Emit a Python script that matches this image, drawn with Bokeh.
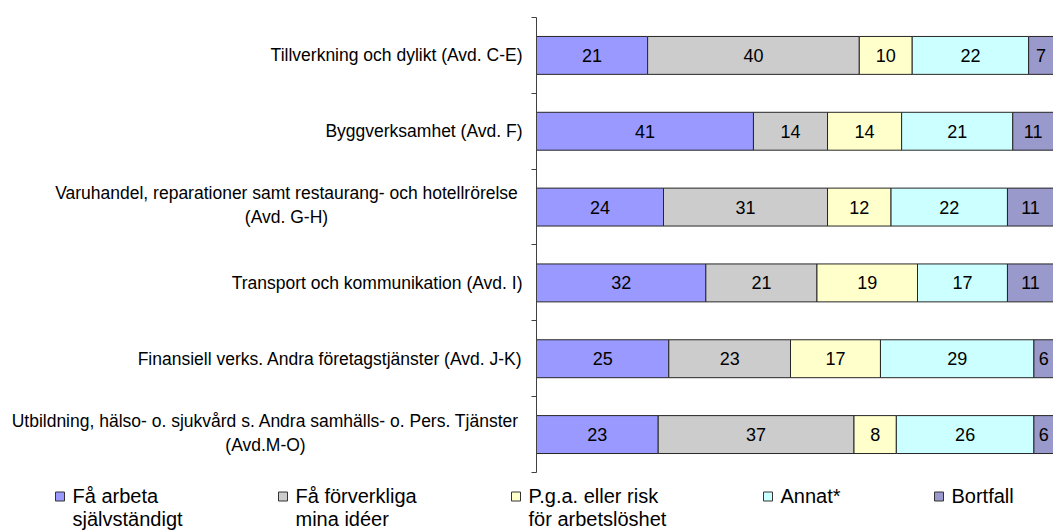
from bokeh.plotting import figure
from bokeh.models import ColumnDataSource, Range1d, FixedTicker
from bokeh.embed import file_html
from bokeh.resources import INLINE
from bokeh.core.properties import value

# ---------------- data ----------------
categories = [
    "Tillverkning och dylikt (Avd. C-E)",
    "Byggverksamhet (Avd. F)",
    "Varuhandel, reparationer samt restaurang- och hotellrörelse\n(Avd. G-H)",
    "Transport och kommunikation (Avd. I)",
    "Finansiell verks. Andra företagstjänster (Avd. J-K)",
    "Utbildning, hälso- o. sjukvård s. Andra samhälls- o. Pers. Tjänster\n(Avd.M-O)",
]
series_names = [
    "Få arbeta\nsjälvständigt",
    "Få förverkliga\nmina idéer",
    "P.g.a. eller risk\nför arbetslöshet",
    "Annat*",
    "Bortfall",
]
fa_arbeta = [21, 41, 24, 32, 25, 23]
fa_forverkliga = [40, 14, 31, 21, 23, 37]
pga_risk = [10, 14, 12, 19, 17, 8]
annat = [22, 21, 22, 17, 29, 26]
bortfall = [7, 11, 11, 11, 6, 6]
series_values = [fa_arbeta, fa_forverkliga, pga_risk, annat, bortfall]

# ---------------- style / layout ----------------
colors = ["#9999FF", "#CCCCCC", "#FFFFCC", "#CCFFFF", "#9999CC"]
FONT = "Liberation Sans"
label_size = "17.5px"
num_size = "18px"
legend_size = "20px"

ORIGIN = 0                  # page position of the figure's top-left corner
W, H = 1053, 530            # figure size
AXIS_PX = 536               # page x of the value axis (value 0)
TOP_PX = 17                 # page y of the first category boundary
BAND_PX = 75.83             # height of one category band
X_END = 97.7                # value visible at right frame edge
x_scale = (ORIGIN + W - AXIS_PX) / X_END
y_scale = BAND_PX

def xd(px):   # page px -> data x
    return (px - AXIS_PX) / x_scale

def yd(py):   # page py -> data y
    return (py - TOP_PX) / y_scale

wrap_center_px = [None, None, 286, None, None, 265]
legend_square_left = [55, 278, 511, 763, 934]
legend_text_gap = 17
legend_square_py = 496
legend_line1_py, legend_line_step = 495, 23

p = figure(width=W, height=H,
           x_range=Range1d(xd(ORIGIN), xd(ORIGIN + W)),
           y_range=Range1d(yd(ORIGIN + H), yd(ORIGIN)),
           output_backend="svg", toolbar_location=None,
           x_axis_location=None,
           min_border_left=0, min_border_right=0,
           min_border_top=0, min_border_bottom=0)
p.grid.visible = False
p.outline_line_color = None
p.background_fill_color = "white"
p.border_fill_color = "white"

yax = p.yaxis[0]
yax.fixed_location = 0
yax.bounds = (0, len(categories))
yax.ticker = FixedTicker(ticks=list(range(len(categories) + 1)))
yax.major_label_text_color = None
yax.major_label_text_font_size = "1px"
yax.minor_tick_line_color = None
yax.major_tick_in = 0
yax.major_tick_out = 5
yax.axis_line_color = "#404040"
yax.major_tick_line_color = "#404040"

ys = [i + 0.5 for i in range(len(categories))]
left = [0] * len(categories)
for vals, col in zip(series_values, colors):
    right = [l + v for l, v in zip(left, vals)]
    cx = [(l + min(r, X_END)) / 2 for l, r in zip(left, right)]
    src = ColumnDataSource(dict(y=ys, left=left, right=right, cx=cx,
                                txt=[str(v) for v in vals]))
    p.hbar(y="y", left="left", right="right", height=0.5, source=src,
           fill_color=col, line_color="#262626", line_width=1)
    p.text(x="cx", y="y", text="txt", source=src,
           text_align="center", text_baseline="middle",
           text_font=value(FONT), text_font_size=num_size, text_color="black")
    left = right

# category labels
single = dict(x=[], y=[], text=[])
multi = dict(x=[], y=[], text=[], yo=[])
for i, cat in enumerate(categories):
    lines = cat.split("\n")
    if len(lines) == 1:
        single["x"].append(0)
        single["y"].append(ys[i])
        single["text"].append(cat)
    else:
        for k, ln in enumerate(lines):
            multi["x"].append(xd(wrap_center_px[i]))
            multi["y"].append(ys[i])
            multi["text"].append(ln)
            multi["yo"].append(-14 if k == 0 else 10)

p.text(x="x", y="y", text="text", source=ColumnDataSource(single),
       x_offset=-14, text_align="right", text_baseline="middle",
       text_font=value(FONT), text_font_size=label_size, text_color="black")
p.text(x="x", y="y", text="text", source=ColumnDataSource(multi),
       y_offset="yo", text_align="center", text_baseline="middle",
       text_font=value(FONT), text_font_size=label_size, text_color="black")

# legend
p.scatter(x=[xd(l + 4.5) for l in legend_square_left], y=[yd(legend_square_py)] * 5,
          marker="square", size=9, fill_color=colors,
          line_color="#333333", line_width=1)
lsrc = dict(x=[], y=[], t=[])
for name, sl in zip(series_names, legend_square_left):
    for k, ln in enumerate(name.split("\n")):
        lsrc["x"].append(xd(sl + legend_text_gap))
        lsrc["y"].append(yd(legend_line1_py + legend_line_step * k))
        lsrc["t"].append(ln)
p.text(x="x", y="y", text="t", source=ColumnDataSource(lsrc),
       text_align="left", text_baseline="middle",
       text_font=value(FONT), text_font_size=legend_size, text_color="black")

open("out.html", "w").write(file_html(p, INLINE))
